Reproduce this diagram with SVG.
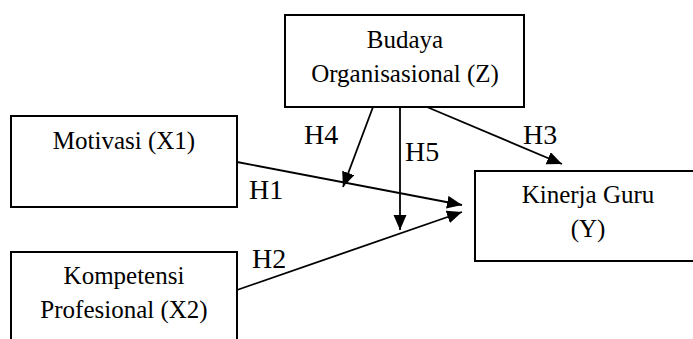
<svg xmlns="http://www.w3.org/2000/svg" width="693" height="339" viewBox="0 0 693 339">
<style>
.box{fill:#fff;stroke:#000;stroke-width:2}
.t{font-family:"Liberation Serif","Times New Roman",serif;font-size:25px;fill:#000;text-anchor:middle}
.h{font-family:"Liberation Serif","Times New Roman",serif;font-size:28px;fill:#000}
.c{stroke:#000;stroke-width:1.8;fill:none;marker-end:url(#ah)}
</style>
<defs>
<marker id="ah" markerUnits="userSpaceOnUse" markerWidth="16" markerHeight="14" refX="15" refY="6.5" orient="auto">
<path d="M0,0 L15,6.5 L0,13 z" fill="#000"/>
</marker>
</defs>
<rect width="693" height="339" fill="#fff"/>
<g id="budaya">
<rect class="box" x="285" y="15" width="239" height="92"/>
<text class="t" x="405" y="48">Budaya</text>
<text class="t" x="405" y="82">Organisasional (Z)</text>
</g>
<g id="motivasi">
<rect class="box" x="11" y="116" width="226" height="91"/>
<text class="t" x="124" y="149">Motivasi (X1)</text>
</g>
<g id="kompetensi">
<rect class="box" x="11" y="252" width="226" height="100"/>
<text class="t" x="124" y="284">Kompetensi</text>
<text class="t" x="124" y="318">Profesional (X2)</text>
</g>
<g id="kinerja">
<rect class="box" x="475" y="171" width="226" height="90"/>
<text class="t" x="588" y="203">Kinerja Guru</text>
<text class="t" x="588" y="237">(Y)</text>
</g>
<g id="connectors">
<line class="c" x1="237" y1="162" x2="462" y2="205"/>
<line class="c" x1="237" y1="290" x2="462" y2="212"/>
<line class="c" x1="373" y1="107" x2="343" y2="187"/>
<line class="c" x1="400" y1="107" x2="400" y2="230"/>
<line class="c" x1="427" y1="107" x2="562" y2="164"/>
</g>
<g id="labels">
<text class="h" x="304" y="144">H4</text>
<text class="h" x="405" y="161">H5</text>
<text class="h" x="249" y="199">H1</text>
<text class="h" x="523" y="144">H3</text>
<text class="h" x="252" y="268">H2</text>
</g>
</svg>
